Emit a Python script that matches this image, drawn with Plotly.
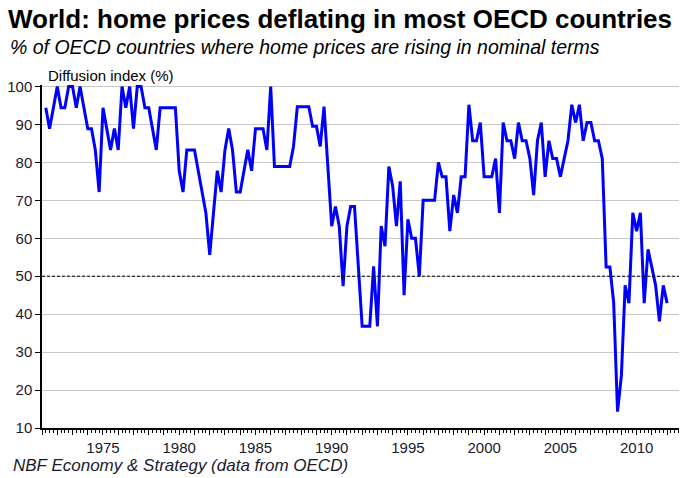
import pandas as pd
import plotly.graph_objects as go

# Quarterly diffusion index, 1971Q2 .. 2012Q1
start_date = "1971-04-01"
diffusion = [
    94.4, 88.9, 94.4, 100, 94.4, 94.4, 100, 100, 94.4, 100,
    94.4, 88.9, 88.9, 83.3, 72.2, 94.4, 88.9, 83.3, 88.9, 83.3,
    100, 94.4, 100, 88.9, 100, 100, 94.4, 94.4, 88.9, 83.3,
    94.4, 94.4, 94.4, 94.4, 94.4, 77.8, 72.2, 83.3, 83.3, 83.3,
    77.8, 72.2, 66.7, 55.6, 66.7, 77.8, 72.2, 83.3, 88.9, 83.3,
    72.2, 72.2, 77.8, 83.3, 77.8, 88.9, 88.9, 88.9, 83.3, 100,
    78.9, 78.9, 78.9, 78.9, 78.9, 84.2, 94.7, 94.7, 94.7, 94.7,
    89.5, 89.5, 84.2, 94.7, 78.9, 63.2, 68.4, 63.2, 47.4, 63.2,
    68.4, 68.4, 52.6, 36.8, 36.8, 36.8, 52.6, 36.8, 63.2, 57.9,
    78.9, 73.7, 63.2, 75.0, 45.0, 65.0, 60.0, 60.0, 50.0, 70.0,
    70.0, 70.0, 70.0, 80.0, 76.2, 76.2, 61.9, 71.4, 66.7, 76.2,
    76.2, 95.2, 85.7, 85.7, 90.5, 76.2, 76.2, 76.2, 81.0, 66.7,
    90.5, 85.7, 85.7, 81.0, 90.5, 85.7, 85.7, 81.0, 71.4, 85.7,
    90.5, 76.2, 85.7, 81.0, 81.0, 76.2, 81.0, 85.7, 95.2, 90.5,
    95.2, 85.7, 90.5, 90.5, 85.7, 85.7, 81.0, 52.4, 52.4, 42.9,
    14.3, 23.8, 47.6, 42.9, 66.7, 61.9, 66.7, 42.9, 57.1, 52.4,
    47.6, 38.1, 47.6, 42.9,
]
dates = pd.date_range(start_date, periods=len(diffusion), freq="QS")

year_ticks = list(range(1971, 2013))
year_tick_labels = [str(y) if y % 5 == 0 else "" for y in year_ticks]
y_tick_values = [10, 20, 30, 40, 50, 60, 70, 80, 90, 100]

title_text = "World: home prices deflating in most OECD countries"
subtitle_text = "% of OECD countries where home prices are rising in nominal terms"
axis_label = "Diffusion index (%)"
source_text = "NBF Economy & Strategy (data from OECD)"

FONT = "Liberation Sans, Arial, sans-serif"

W, H = 687, 478
ML, MR, MT, MB = 42, 8, 84.5, 50
plot_w = W - ML - MR
plot_h = H - MT - MB


def px_x(x):
    return (x - ML) / plot_w


def px_y(y):
    return (H - MB - y) / plot_h


fig = go.Figure()
fig.add_trace(go.Scatter(
    x=dates, y=diffusion, mode="lines",
    line=dict(color="#0000FF", width=3),
    hoverinfo="skip", showlegend=False,
))

fig.add_shape(type="line", xref="paper", yref="y", x0=0, x1=1, y0=50, y1=50,
              line=dict(color="black", width=1, dash="3px,2px"), layer="above")

fig.update_layout(
    width=W, height=H,
    margin=dict(l=ML, r=MR, t=MT, b=MB, pad=0),
    paper_bgcolor="white", plot_bgcolor="white",
    font=dict(family=FONT, color="black"),
    showlegend=False,
    xaxis=dict(
        type="date",
        range=["1971-01-01", "2012-10-12"],
        tickmode="array",
        tickvals=[f"{y}-01-01" for y in year_ticks],
        ticktext=year_tick_labels,
        ticks="outside", ticklen=5, tickwidth=1, tickcolor="black",
        showline=True, linecolor="black", linewidth=1.5,
        showgrid=False, zeroline=False,
        tickfont=dict(size=15, color="#1a1a2e", family=FONT),
        minor=dict(ticks="outside", ticklen=3, tickwidth=1, tickcolor="black",
                   dtick="M3", tick0="1971-01-01", showgrid=False),
        fixedrange=True,
    ),
    yaxis=dict(
        range=[10, 100.4],
        tickmode="array",
        tickvals=y_tick_values,
        ticks="outside", ticklen=5, tickwidth=1, tickcolor="black",
        showline=True, linecolor="black", linewidth=1.5,
        showgrid=True, gridcolor="#C8C8C8", gridwidth=1,
        zeroline=False,
        tickfont=dict(size=15, color="#1a1a2e", family=FONT),
        fixedrange=True,
    ),
    annotations=[
        dict(text=f"<b>{title_text}</b>", xref="paper", yref="paper",
             x=px_x(6), y=px_y(18), xanchor="left", yanchor="middle",
             showarrow=False, font=dict(size=26, family=FONT, color="black")),
        dict(text=f"<i>{subtitle_text}</i>", xref="paper", yref="paper",
             x=px_x(8), y=px_y(46), xanchor="left", yanchor="middle",
             showarrow=False, font=dict(size=19.5, family=FONT, color="black")),
        dict(text=axis_label, xref="paper", yref="paper",
             x=px_x(46), y=px_y(75), xanchor="left", yanchor="middle",
             showarrow=False, font=dict(size=15, family=FONT, color="black")),
        dict(text=f"<i>{source_text}</i>", xref="paper", yref="paper",
             x=px_x(11), y=px_y(466), xanchor="left", yanchor="middle",
             showarrow=False, font=dict(size=17, family=FONT, color="#1a1a2e")),
    ],
)

fig.write_html("out.html", config={"displayModeBar": False},
               post_script="document.body.style.margin='0px';")
